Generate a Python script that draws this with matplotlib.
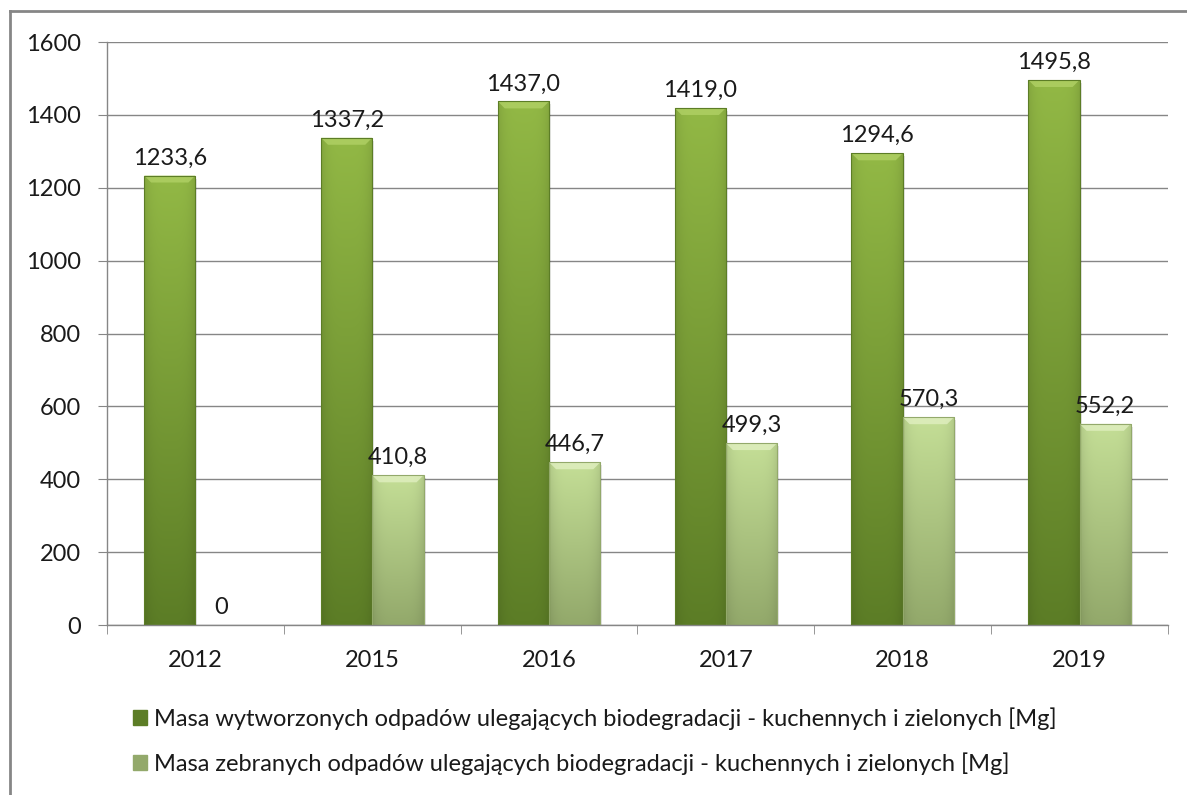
import numpy as np
import matplotlib
matplotlib.use("Agg")
import matplotlib.pyplot as plt
from matplotlib.patches import Polygon, Rectangle
from matplotlib.colors import to_rgb
from matplotlib.lines import Line2D

plt.rcParams["font.family"] = ["Lato", "DejaVu Sans"]

years = ["2012", "2015", "2016", "2017", "2018", "2019"]
produced = [1233.6, 1337.2, 1437.0, 1419.0, 1294.6, 1495.8]
collected = [0, 410.8, 446.7, 499.3, 570.3, 552.2]
labels = [
    "Masa wytworzonych odpadów ulegających biodegradacji - kuchennych i zielonych [Mg]",
    "Masa zebranych odpadów ulegających biodegradacji - kuchennych i zielonych [Mg]",
]

# (top colour, bottom colour, bevel colour)
styles = [("#92b845", "#5c7d26", "#b3d368"),
          ("#c4de96", "#93a96b", "#e3f1c4")]

W, H, DPI = 1187, 795, 100
FS = 17
fig = plt.figure(figsize=(W / DPI, H / DPI), dpi=DPI)
ax = fig.add_axes([107 / W, 1 - 625 / H, (1168 - 107) / W, (625 - 42) / H])

ymax = 1600
ax.set_xlim(-0.5, len(years) - 0.5)
ax.set_ylim(0, ymax)
bw = 0.29
px_y = ymax / (625 - 42)   # data units per pixel vertically
px_x = (len(years)) / (1168 - 107)


def shaded_bar(x0, h, top, bot, bevel):
    if h <= 0:
        return
    rect = Rectangle((x0, 0), bw, h, facecolor="none", edgecolor="none")
    ax.add_patch(rect)
    # soft shadow
    ax.add_patch(Rectangle((x0 + 2 * px_x, -3 * px_y), bw, h, facecolor="#000000",
                           alpha=0.10, edgecolor="none", zorder=1.5))
    t, b = np.array(to_rgb(top)), np.array(to_rgb(bot))
    n = 64
    v = np.linspace(0, 1, n)[:, None, None]
    grad = t * (1 - v) + b * v
    edge = np.ones((1, n, 1))
    xs = np.linspace(0, 1, n)
    edge[0, :, 0] = 1 - 0.10 * (np.abs(xs - 0.5) * 2) ** 4
    img = np.clip(grad * edge, 0, 1)
    im = ax.imshow(img, extent=(x0, x0 + bw, 0, h), aspect="auto",
                   zorder=2, interpolation="bilinear")
    im.set_clip_path(rect)
    bh = 7 * px_y
    inset = 7 * px_x
    ax.add_patch(Polygon([(x0, h), (x0 + bw, h), (x0 + bw - inset, h - bh),
                          (x0 + inset, h - bh)], closed=True,
                         facecolor=bevel, edgecolor="none", alpha=0.75, zorder=3))
    ax.add_patch(Rectangle((x0, 0), bw, h, facecolor="none",
                           edgecolor=bot, linewidth=0.8, zorder=3))


x = np.arange(len(years))
for i, (p, c) in enumerate(zip(produced, collected)):
    shaded_bar(x[i] - bw, p, *styles[0])
    shaded_bar(x[i], c, *styles[1])
    ax.text(x[i] - bw / 2, p + 7 * px_y, f"{p:.1f}".replace(".", ","),
            ha="center", va="bottom", fontsize=FS, color="#1a1a1a", zorder=4)
    lbl = "0" if c == 0 else f"{c:.1f}".replace(".", ",")
    ax.text(x[i] + bw / 2, c + 7 * px_y, lbl,
            ha="center", va="bottom", fontsize=FS, color="#1a1a1a", zorder=4)

ax.set_yticks(np.arange(0, 1601, 200))
ax.set_xticks(x)
ax.set_xticklabels(years)
ax.set_xticks(np.arange(-0.5, len(years), 1), minor=True)
ax.tick_params(axis="y", which="major", length=6.5, color="#868686",
               labelsize=FS, pad=12, labelcolor="#1a1a1a")
ax.tick_params(axis="x", which="major", length=0, labelsize=FS, pad=18,
               labelcolor="#1a1a1a")
ax.tick_params(axis="x", which="minor", length=6.5, color="#868686")
ax.grid(axis="y", color="#868686", linewidth=1)
ax.set_axisbelow(True)
for s in ["top", "right"]:
    ax.spines[s].set_visible(False)
for s in ["left", "bottom"]:
    ax.spines[s].set_color("#868686")
    ax.spines[s].set_linewidth(1)

handles = [Rectangle((0, 0), 1, 1, facecolor=st[1], edgecolor=st[1]) for st in styles]
fig.legend(handles, labels, loc="center", bbox_to_anchor=(595 / W, 1 - 741 / H),
           ncol=1, frameon=False, fontsize=FS, handlelength=0.6, handleheight=0.6,
           handletextpad=0.3, labelspacing=0.95, labelcolor="#1a1a1a")

# outer frame (cut at right and bottom)
fig.add_artist(Line2D([10 / W, 1], [1 - 11 / H, 1 - 11 / H], transform=fig.transFigure,
                      color="#868686", linewidth=2))
fig.add_artist(Line2D([10 / W, 10 / W], [0, 1 - 11 / H], transform=fig.transFigure,
                      color="#868686", linewidth=2))

fig.savefig("out.png", dpi=DPI)
